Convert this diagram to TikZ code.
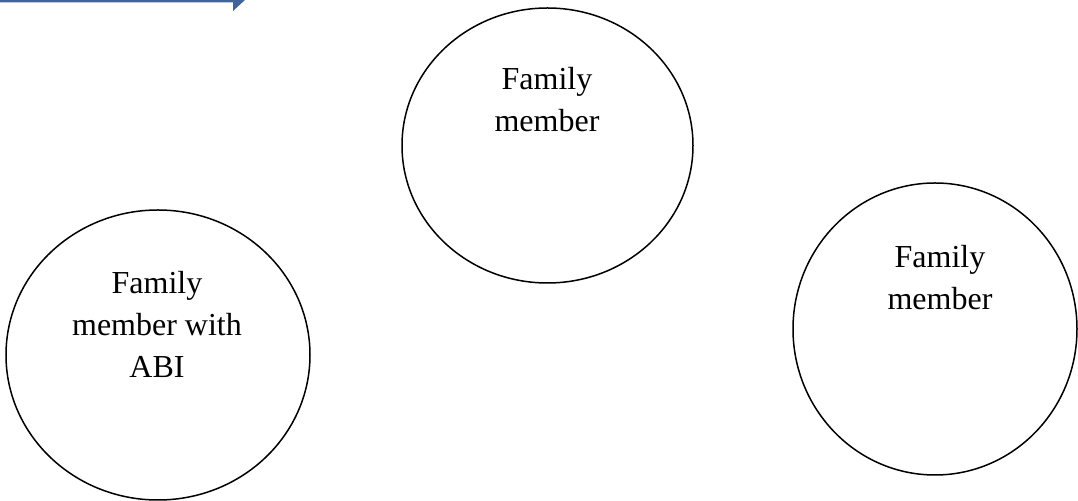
\documentclass[tikz,border=0pt]{standalone}
\usepackage{fontspec}
\setmainfont{Liberation Serif}
\usetikzlibrary{shapes.geometric}
\definecolor{arrowblue}{RGB}{65,100,154}
\begin{document}
\begin{tikzpicture}[x=0.5pt,y=-0.5pt]
\tikzset{circ/.style={ellipse,draw,line width=0.75pt,inner sep=0pt},
lbl/.style={align=center,inner sep=0pt,anchor=north,font=\fontsize{16}{21}\selectfont},
}
\useasboundingbox (0,0) rectangle (1078,501);

% arrow at the top, cut by the page
\fill[arrowblue] (0,0) -- (245,0) -- (233,11) -- (233,2.5) -- (0,2.5) -- cycle;

\node[circ,minimum width=152pt,minimum height=145pt] (abi) at (158,355) {};
\node[circ,minimum width=145.5pt,minimum height=137.5pt] (fam1) at (547.5,145.5) {};
\node[circ,minimum width=142pt,minimum height=146pt] (fam2) at (935,329) {};

\node[lbl] (abitxt) at (157,271) {Family\\member with\\ABI};
\node[lbl] (fam1txt) at (547,67) {Family\\member};
\node[lbl] (fam2txt) at (940,245) {Family\\member};

\end{tikzpicture}
\end{document}
